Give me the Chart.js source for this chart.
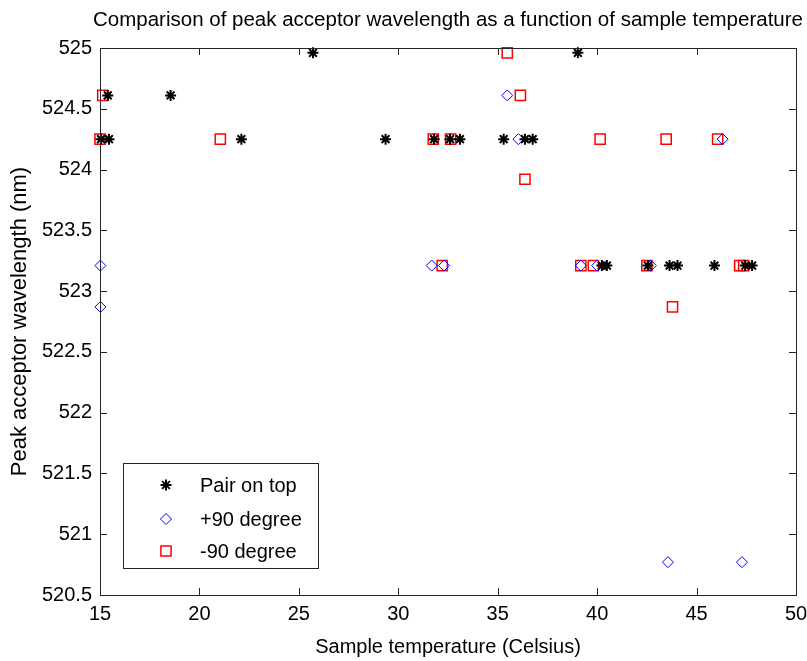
<!DOCTYPE html>
<html>
<head>
<meta charset="utf-8">
<script src="https://cdn.jsdelivr.net/npm/chart.js@4/dist/chart.umd.min.js"></script>
<style>
  html, body { margin: 0; padding: 0; background: #fff; }
  canvas { display: block; }
</style>
</head>
<body>
<canvas id="chart" width="807" height="661"></canvas>
<script>
// values
var pairX = [25.71, 39.03, 15.39, 18.55, 15.05, 15.45, 22.11, 29.36, 31.8, 32.6, 33.1, 35.3, 36.37, 36.76,
             40.24, 40.49, 42.55, 43.64, 44.04, 45.9, 47.45, 47.79];
var pairY = [524.96, 524.96, 524.61, 524.61, 524.25, 524.25, 524.25, 524.25, 524.25, 524.25, 524.25, 524.25, 524.25, 524.25,
             523.21, 523.21, 523.21, 523.21, 523.21, 523.21, 523.21, 523.21];

var plusX = [35.48, 36.04, 46.31, 15.02, 31.68, 32.3, 39.18, 40.0, 42.7, 15.02, 43.56, 47.28];
var plusY = [524.61, 524.25, 524.25, 523.21, 523.21, 523.21, 523.21, 523.21, 523.21, 522.87, 520.77, 520.77];

var minusX = [35.48, 15.14, 36.14, 15.0, 21.05, 31.76, 32.63, 40.15, 43.47, 46.06, 36.37,
              32.21, 39.18, 39.81, 42.5, 47.17, 47.37, 43.79];
var minusY = [524.96, 524.61, 524.61, 524.25, 524.25, 524.25, 524.25, 524.25, 524.25, 524.25, 523.92,
              523.21, 523.21, 523.21, 523.21, 523.21, 523.21, 522.87];

var seriesNames = ["Pair on top", "+90 degree", "-90 degree"];
var xTicks = [15, 20, 25, 30, 35, 40, 45, 50];
var yTicks = [520.5, 521, 521.5, 522, 522.5, 523, 523.5, 524, 524.5, 525];

var chartTitle = "Comparison of peak acceptor wavelength as a function of sample temperature";
var xLabel = "Sample temperature (Celsius)";
var yLabel = "Peak acceptor wavelength (nm)";

var FONT = "'Liberation Sans', Arial, Helvetica, sans-serif";
var FSIZE = 20;

function toPoints(xs, ys) {
    var out = [];
    for (let i = 0; i < xs.length; i++) {
        out.push({ x: xs[i], y: ys[i] });
    }
    return out;
}

// box, inward ticks, title and legend
var framePlugin = {
    id: "frame",
    afterDraw: function(chart) {
        const ctx = chart.ctx;
        const a = chart.chartArea;
        const xs = chart.scales.x;
        const ys = chart.scales.y;
        ctx.save();
        ctx.strokeStyle = "#262626";
        ctx.lineWidth = 1;
        ctx.strokeRect(Math.round(a.left) + 0.5, Math.round(a.top) + 0.5,
                       Math.round(a.right - a.left), Math.round(a.bottom - a.top));
        ctx.beginPath();
        for (let i = 0; i < xTicks.length; i++) {
            const px = Math.round(xs.getPixelForValue(xTicks[i])) + 0.5;
            ctx.moveTo(px, a.bottom); ctx.lineTo(px, a.bottom - 7);
            ctx.moveTo(px, a.top); ctx.lineTo(px, a.top + 7);
        }
        for (let i = 0; i < yTicks.length; i++) {
            const py = Math.round(ys.getPixelForValue(yTicks[i])) + 0.5;
            ctx.moveTo(a.left, py); ctx.lineTo(a.left + 7, py);
            ctx.moveTo(a.right, py); ctx.lineTo(a.right - 7, py);
        }
        ctx.stroke();

        // title
        ctx.fillStyle = "#000";
        ctx.font = "20.5px " + FONT;
        ctx.textAlign = "center";
        ctx.textBaseline = "middle";
        ctx.fillText(chartTitle, (a.left + a.right) / 2, 20);

        // legend
        const lx = 123, ly = 463, lw = 195, lh = 105;
        ctx.fillStyle = "#fff";
        ctx.fillRect(lx, ly, lw, lh);
        ctx.strokeStyle = "#262626";
        ctx.lineWidth = 1;
        ctx.strokeRect(lx + 0.5, ly + 0.5, lw, lh);
        ctx.textAlign = "left";
        const rows = [485, 519, 551];
        chart.data.datasets.forEach(function(ds, i) {
            ctx.strokeStyle = ds.borderColor;
            ctx.fillStyle = ds.backgroundColor;
            ctx.lineWidth = ds.borderWidth;
            Chart.helpers.drawPoint(ctx, {
                pointStyle: ds.pointStyle,
                radius: ds.pointRadius,
                borderWidth: ds.borderWidth,
                rotation: 0
            }, 166, rows[i]);
            ctx.fillStyle = "#000";
            ctx.font = FSIZE + "px " + FONT;
            ctx.fillText(ds.label, 200, rows[i] + 1);
        });
        ctx.restore();
    }
};

const ctx = document.getElementById("chart").getContext("2d");
const myChart = new Chart(ctx, {
    type: "scatter",
    data: {
        datasets: [{
            label: seriesNames[0],
            data: toPoints(pairX, pairY),
            pointStyle: "star",
            pointRadius: 5.5,
            borderWidth: 2,
            borderColor: "#000000",
            backgroundColor: "#000000",
            clip: false,
        }, {
            label: seriesNames[1],
            data: toPoints(plusX, plusY),
            pointStyle: "rectRot",
            pointRadius: 5.5,
            borderWidth: 1,
            borderColor: "#0000ff",
            backgroundColor: "rgba(0,0,0,0)",
            clip: false,
        }, {
            label: seriesNames[2],
            data: toPoints(minusX, minusY),
            pointStyle: "rect",
            pointRadius: 7.2,
            borderWidth: 1.5,
            borderColor: "#ff0000",
            backgroundColor: "rgba(0,0,0,0)",
            clip: false,
        }, ],
    },
    options: {
        responsive: false,
        animation: false,
        devicePixelRatio: 1,
        layout: {
            padding: { top: 48, right: 11, bottom: 0, left: 0 },
        },
        plugins: {
            legend: { display: false },
            tooltip: { enabled: false },
        },
        scales: {
            x: {
                type: "linear",
                min: 15,
                max: 50,
                afterFit: function(scale) {
                    scale.height = 66;
                    scale.paddingLeft = 0;
                    scale.paddingRight = 0;
                },
                afterBuildTicks: function(scale) {
                    scale.ticks = xTicks.map(function(v) { return { value: v }; });
                },
                grid: { display: false, drawTicks: false },
                border: { display: false },
                ticks: { color: "#000", padding: 7, font: { family: FONT, size: FSIZE }, maxRotation: 0,
                         callback: function(v) { return String(v); } },
                title: { display: true, text: xLabel, color: "#000", padding: { top: 0, bottom: 2 },
                         font: { family: FONT, size: FSIZE } },
            },
            y: {
                type: "linear",
                min: 520.5,
                max: 525,
                afterFit: function(scale) {
                    scale.width = 100;
                    scale.paddingTop = 0;
                    scale.paddingBottom = 0;
                },
                afterBuildTicks: function(scale) {
                    scale.ticks = yTicks.map(function(v) { return { value: v }; });
                },
                grid: { display: false, drawTicks: false },
                border: { display: false },
                ticks: { color: "#000", padding: 8, font: { family: FONT, size: FSIZE },
                         callback: function(v) { return String(v); } },
                title: { display: true, text: yLabel, color: "#000", padding: { top: 7, bottom: 0 },
                         font: { family: FONT, size: 22 } },
            },
        },
    },
    plugins: [framePlugin],
});
</script>
</body>
</html>
